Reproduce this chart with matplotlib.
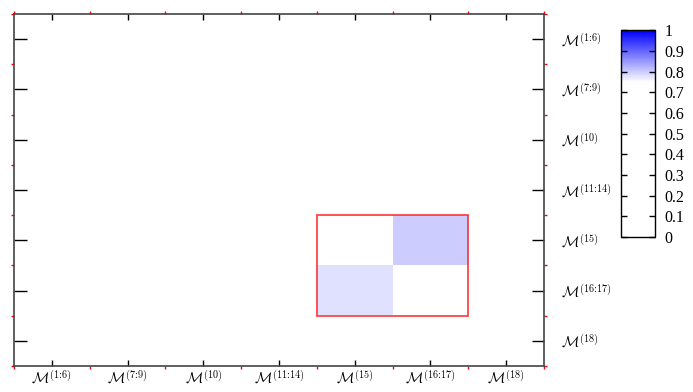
import numpy as np
import matplotlib.pyplot as plt
from matplotlib.colors import LinearSegmentedColormap
from matplotlib.patches import Rectangle

plt.rcParams['mathtext.fontset'] = 'cm'
plt.rcParams['font.family'] = ['Liberation Serif', 'DejaVu Serif']

labels = [r'$\mathcal{M}^{(1\!:\!6)}$', r'$\mathcal{M}^{(7\!:\!9)}$', r'$\mathcal{M}^{(10)}$',
          r'$\mathcal{M}^{(11\!:\!14)}$', r'$\mathcal{M}^{(15)}$', r'$\mathcal{M}^{(16\!:\!17)}$',
          r'$\mathcal{M}^{(18)}$']

# similarity between blocks (rows = y, cols = x); only two cells above the white range
values = np.zeros((7, 7))
values[4, 5] = 0.80
values[5, 4] = 0.78

# highlighted group of blocks
box_start, box_size = 4, 2

cbar_ticks = [0, 0.1, 0.2, 0.3, 0.4, 0.5, 0.6, 0.7, 0.8, 0.9, 1]

cmap = LinearSegmentedColormap.from_list(
    'wb', [(0, 'white'), (0.75, 'white'), (1, 'blue')])

fig = plt.figure(figsize=(6.93, 3.92), dpi=100)
ax = fig.add_axes([0.0202, 0.0663, 0.7648, 0.898])
n = len(labels)
im = ax.imshow(values, cmap=cmap, vmin=0, vmax=1, aspect='auto',
               extent=(-0.5, n - 0.5, n - 0.5, -0.5), interpolation='nearest')

ax.add_patch(Rectangle((box_start - 0.5, box_start - 0.5), box_size, box_size,
                       fill=False, edgecolor='#ff3333', linewidth=1.2, zorder=5))

ax.set_xticks(range(n))
ax.set_xticklabels(labels, fontsize=10.5)
ax.set_yticks(range(n))
ax.set_yticklabels(labels, fontsize=10.5)
ax.yaxis.tick_right()
ax.tick_params(axis='y', which='major', direction='in', left=True, right=True,
               length=9, width=1, color='black', pad=12)
ax.tick_params(axis='x', which='major', direction='in', top=True, bottom=True,
               length=4.5, width=1, color='black', pad=2)

ax.set_xticks(np.arange(-0.5, n), minor=True)
ax.set_yticks(np.arange(-0.5, n), minor=True)
ax.tick_params(which='minor', direction='out', length=2.5, width=1, color='red',
               left=True, right=True, top=True, bottom=True)
for s in ax.spines.values():
    s.set_color('#444444')
    s.set_linewidth(1.2)

cax = fig.add_axes([0.896, 0.395, 0.049, 0.528])
cb = fig.colorbar(im, cax=cax, ticks=cbar_ticks)
cb.ax.set_yticklabels([f'{t:g}' for t in cbar_ticks], fontsize=11.5)
cb.ax.tick_params(direction='in', length=4, width=1, left=True, right=True, pad=7)
cb.outline.set_linewidth(1)

fig.savefig('out.png', dpi=100)
